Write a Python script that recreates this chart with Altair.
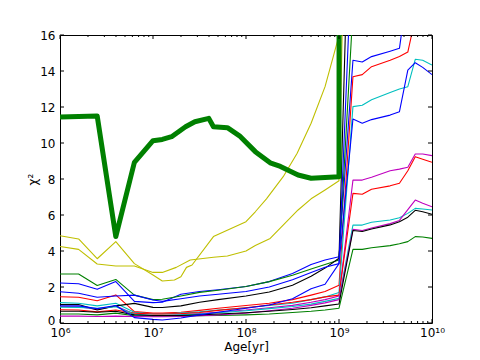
import altair as alt
import pandas as pd

# shared log10(age) grid used by the 13 thin lines
grid_log_age = [6.0, 6.2, 6.4, 6.6, 6.8, 7.0, 7.1, 7.3, 7.5, 7.7, 8.0, 8.25, 8.5, 8.7, 8.85, 9.0,
                9.15, 9.25, 9.35, 9.55, 9.65, 9.74, 9.82, 9.9, 10.0]

blueA = [2.22, 2.18, 1.87, 2.3, 1.2, 1.13, 1.15, 1.6, 1.75, 1.85, 2.03, 2.3, 2.75, 3.25, 3.5, 3.68,
         14.6, 14.5, 14.8, 15.1, 15.26, 18.6, 19, 19, 19]
greenA = [2.72, 2.72, 2.08, 2.42, 1.55, 1.3, 1.32, 1.5, 1.7, 1.82, 2.03, 2.3, 2.65, 3.0, 3.25, 3.5,
          17.4, 20, 20, 20, 20, 20, 20, 20, 20]
redA = [1.46, 1.43, 1.24, 1.56, 0.63, 0.55, 0.55, 0.6, 0.7, 0.82, 0.97, 1.1, 1.3, 1.55, 1.75, 2.1,
        13.68, 13.8, 14.24, 14.6, 14.8, 15.05, 16.95, 17.5, 17.5]
cyanA = [1.13, 1.1, 0.95, 1.1, 0.6, 0.5, 0.5, 0.55, 0.62, 0.72, 0.85, 0.97, 1.1, 1.3, 1.45, 1.7,
         12.02, 12.1, 12.4, 12.8, 13.0, 13.13, 14.65, 14.6, 14.33]
magentaA = [0.92, 0.9, 0.75, 0.95, 0.5, 0.4, 0.4, 0.45, 0.52, 0.6, 0.72, 0.85, 0.98, 1.15, 1.3, 1.5,
            7.94, 7.94, 8.1, 8.46, 8.55, 8.65, 9.39, 9.39, 9.3]
blackA = [1.03, 1.03, 0.72, 0.95, 1.09, 0.87, 0.86, 0.95, 1.15, 1.3, 1.5, 1.72, 2.1, 2.6, 3.05, 3.6,
          31, 30, 30, 30, 30, 30, 30, 30, 30]
blueB = [1.74, 1.65, 1.43, 1.5, 1.55, 1.28, 1.2, 1.35, 1.5, 1.6, 1.75, 2.0, 2.4, 2.8, 3.1, 3.3,
         11.33, 11.1, 11.3, 11.55, 11.74, 14.05, 14.46, 14.2, 13.8]
greenB = [0.5, 0.5, 0.45, 0.55, 0.4, 0.38, 0.38, 0.38, 0.4, 0.42, 0.45, 0.5, 0.58, 0.65, 0.72, 0.82,
          4.09, 4.09, 4.18, 4.3, 4.4, 4.52, 4.8, 4.78, 4.7]
redB = [0.74, 0.72, 0.62, 0.72, 0.55, 0.5, 0.5, 0.52, 0.58, 0.7, 0.85, 1.0, 1.15, 1.3, 1.45, 1.55,
        7.2, 7.15, 7.43, 7.62, 7.76, 8.46, 9.24, 9.1, 8.93]
cyanB = [0.88, 0.87, 0.82, 0.9, 0.48, 0.42, 0.42, 0.45, 0.5, 0.57, 0.68, 0.8, 0.92, 1.05, 1.2, 1.37,
         5.44, 5.44, 5.6, 5.72, 5.85, 6.09, 6.37, 6.33, 6.28]
magentaB = [0.38, 0.38, 0.36, 0.38, 0.36, 0.35, 0.35, 0.36, 0.4, 0.45, 0.55, 0.68, 0.82, 0.98, 1.12, 1.3,
            5.2, 5.14, 5.28, 5.52, 5.7, 6.3, 6.83, 6.65, 6.46]
blackB = [0.65, 0.65, 0.6, 0.65, 0.45, 0.42, 0.42, 0.42, 0.45, 0.5, 0.57, 0.65, 0.75, 0.85, 0.95, 1.06,
          5.14, 5.08, 5.22, 5.45, 5.62, 5.88, 6.26, 6.18, 6.04]
blueC = [0.96, 0.95, 0.8, 0.97, 0.3, 0.2, 0.17, 0.28, 0.45, 0.6, 0.82, 1.0, 1.35, 1.9, 2.15, 3.3,
         22, 22, 22, 22, 22, 22, 22, 22, 22]

yellowA_log_age = [6.0, 6.2, 6.4, 6.6, 6.8, 7.0, 7.1, 7.23, 7.3, 7.36, 7.42, 7.65, 8.0, 8.1, 8.22,
                   8.4, 8.55, 8.7, 8.85, 9.0, 9.15]
yellowA = [4.85, 4.67, 3.57, 4.52, 3.3, 2.67, 2.33, 2.39, 2.57, 3.09, 3.22, 4.8, 5.63, 6.18, 6.9,
           8.13, 9.43, 11.1, 13.13, 15.96, 30]
yellowB_log_age = [6.0, 6.2, 6.4, 6.6, 6.8, 7.0, 7.1, 7.25, 7.4, 7.65, 7.8, 8.0, 8.1, 8.26, 8.56,
                   8.7, 8.85, 9.0, 9.15]
yellowB = [4.25, 4.09, 3.28, 3.17, 3.17, 2.81, 2.81, 3.09, 3.5, 3.65, 3.72, 4.0, 4.3, 4.7, 6.28,
           6.9, 7.39, 7.9, 44]

thick_log_age = [6.0, 6.4, 6.6, 6.8, 7.0, 7.1, 7.2, 7.35, 7.45, 7.6, 7.65, 7.8, 7.93, 8.1, 8.26,
                 8.37, 8.56, 8.7, 9.0, 9.003]
thick_green = [11.45, 11.5, 4.8, 8.93, 10.13, 10.2, 10.35, 10.9, 11.18, 11.37, 10.9, 10.85, 10.4,
               9.52, 8.9, 8.7, 8.22, 8.04, 8.13, 40]

series_names = ["s01", "s02", "s03", "s04", "s05", "s06", "s07", "s08",
                "s09", "s10", "s11", "s12", "s13", "s14", "s15"]
series_colors = ["#0000ff", "#008000", "#ff0000", "#00bfbf", "#bf00bf", "#bfbf00", "#000000",
                 "#0000ff", "#008000", "#ff0000", "#00bfbf", "#bf00bf", "#bfbf00", "#000000",
                 "#0000ff"]
series_data = [
    (grid_log_age, blueA), (grid_log_age, greenA), (grid_log_age, redA), (grid_log_age, cyanA),
    (grid_log_age, magentaA), (yellowA_log_age, yellowA), (grid_log_age, blackA),
    (grid_log_age, blueB), (grid_log_age, greenB), (grid_log_age, redB), (grid_log_age, cyanB),
    (grid_log_age, magentaB), (yellowB_log_age, yellowB), (grid_log_age, blackB),
    (grid_log_age, blueC),
]

major_x = [1e6, 1e7, 1e8, 1e9, 1e10]
minor_x = [k * 10 ** d for d in range(6, 10) for k in range(2, 10)]
major_y = [0, 2, 4, 6, 8, 10, 12, 14, 16]

rows = []
for i, (name, (la, vals)) in enumerate(zip(series_names, series_data)):
    for a, v in zip(la, vals):
        rows.append({"age": 10 ** a, "chi2": v, "series": name, "k": i})
df = pd.DataFrame(rows)
df_thick = pd.DataFrame({"age": [10 ** a for a in thick_log_age], "chi2": thick_green})

W, H = 372, 288
xscale = alt.Scale(type="log", domain=[1e6, 1e10], nice=False)
yscale = alt.Scale(domain=[0, 16], nice=False, zero=False)

label_expr = "'10' + ['⁶','⁷','⁸','⁹','¹⁰'][round(log(datum.value)/LN10) - 6]"

x_axis = alt.Axis(values=major_x, labelExpr=label_expr, ticks=False, domain=False, grid=False,
                  title="Age[yr]", labelFontSize=12, titleFontSize=12, labelPadding=4,
                  titlePadding=3, titleFontWeight="normal", labelColor="black",
                  titleColor="black", labelFlush=False, labelOverlap=False)
y_axis = alt.Axis(values=major_y, ticks=False, domain=False, grid=False, title="χ²",
                  labelFontSize=12, titleFontSize=12, labelPadding=5, titlePadding=0,
                  titleFontWeight="normal", labelColor="black", titleColor="black",
                  labelOffset={"condition": {"test": "datum.value == 0", "value": -3}, "value": 0})

X = lambda f: alt.X(f, scale=xscale, axis=x_axis, title="Age[yr]")
Y = lambda f: alt.Y(f, scale=yscale, axis=y_axis, title="χ²")

lines = alt.Chart(df).mark_line(strokeWidth=1.1, clip=True, strokeJoin="round").encode(
    x=X("age:Q"),
    y=Y("chi2:Q"),
    color=alt.Color("series:N", scale=alt.Scale(domain=series_names, range=series_colors),
                    legend=None),
    order="age:Q",
)

thick = alt.Chart(df_thick).mark_line(strokeWidth=5, clip=True, color="#008000",
                                      strokeJoin="round").encode(
    x=X("age:Q"),
    y=Y("chi2:Q"),
    order="age:Q",
)

df_xmaj = pd.DataFrame({"age": major_x})
df_xmin = pd.DataFrame({"age": minor_x})
df_ymaj = pd.DataFrame({"chi2": major_y})


def xticks(d, length):
    bottom = alt.Chart(d).mark_rule(color="black", strokeWidth=1).encode(
        x=X("age:Q"), y=alt.value(H), y2=alt.value(H - length))
    top = alt.Chart(d).mark_rule(color="black", strokeWidth=1).encode(
        x=X("age:Q"), y=alt.value(0), y2=alt.value(length))
    return [bottom, top]


left_ticks = alt.Chart(df_ymaj).mark_rule(color="black", strokeWidth=1).encode(
    y=Y("chi2:Q"), x=alt.value(0), x2=alt.value(4))
right_ticks = alt.Chart(df_ymaj).mark_rule(color="black", strokeWidth=1).encode(
    y=Y("chi2:Q"), x=alt.value(W), x2=alt.value(W - 4))

chart = alt.layer(
    lines, thick, *xticks(df_xmaj, 4), *xticks(df_xmin, 2), left_ticks, right_ticks
).properties(
    width=W, height=H,
    autosize=alt.AutoSizeParams(type="none"),
    padding={"left": 52, "top": 27, "right": 40, "bottom": 37},
    background="white",
).configure_view(
    stroke="black", strokeWidth=1
).configure_axis(
    labelFont="DejaVu Sans", titleFont="DejaVu Sans"
)

chart.save("out.html", embed_options={"renderer": "svg", "actions": False})
